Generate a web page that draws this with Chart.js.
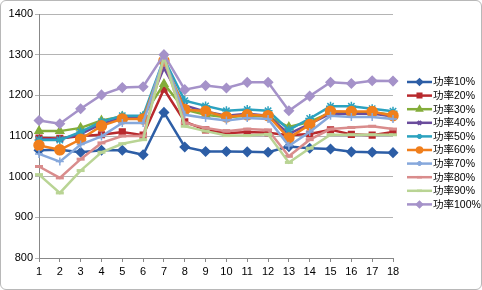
<!DOCTYPE html>
<html>
<head>
<meta charset="utf-8">
<script src="https://cdn.jsdelivr.net/npm/chart.js@4/dist/chart.umd.min.js"></script>
<style>
  html, body { margin: 0; padding: 0; background: #fff; }
  #wrap {
    position: relative; width: 480px; height: 288px;
    border: 1px solid #b8b8b8; border-radius: 6px; overflow: hidden;
  }
  #c { position: absolute; left: -1px; top: -1px; }
</style>
</head>
<body>
<div id="wrap"><canvas id="c" width="482" height="290"></canvas></div>
<script>
// --- dati ---
const labels = ['1','2','3','4','5','6','7','8','9','10','11','12','13','14','15','16','17','18'];
const seriesNames = ['功率10%','功率20%','功率30%','功率40%','功率50%','功率60%','功率70%','功率80%','功率90%','功率100%'];

const p10  = [1065, 1066, 1060, 1065, 1065, 1054, 1158, 1073, 1062, 1062, 1061, 1060, 1074, 1070, 1068, 1061, 1060, 1059];
const p20  = [1095, 1094, 1100, 1103, 1110, 1102, 1215, 1135, 1115, 1107, 1110, 1108, 1102, 1105, 1115, 1104, 1102, 1110];
const p30  = [1112, 1112, 1120, 1138, 1148, 1148, 1228, 1165, 1152, 1146, 1150, 1148, 1122, 1135, 1158, 1158, 1158, 1152];
const p40  = [1092, 1092, 1105, 1130, 1145, 1145, 1267, 1175, 1160, 1150, 1155, 1150, 1105, 1130, 1155, 1155, 1155, 1148];
const p50  = [1090, 1090, 1110, 1135, 1150, 1150, 1290, 1187, 1174, 1162, 1165, 1162, 1115, 1143, 1173, 1173, 1167, 1161];
const p60  = [1077, 1066, 1092, 1125, 1142, 1142, 1285, 1165, 1161, 1147, 1152, 1150, 1095, 1128, 1161, 1160, 1160, 1150];
const p70  = [1056, 1037, 1079, 1099, 1132, 1132, 1292, 1152, 1144, 1138, 1144, 1142, 1076, 1110, 1150, 1147, 1147, 1142];
const p80  = [1025, 997, 1043, 1083, 1100, 1100, 1288, 1132, 1120, 1112, 1117, 1115, 1050, 1091, 1117, 1121, 1124, 1117];
const p90  = [1005, 960, 1015, 1060, 1081, 1091, 1295, 1124, 1112, 1101, 1101, 1104, 1035, 1070, 1103, 1103, 1103, 1103];
const p100 = [1138, 1130, 1167, 1201, 1219, 1221, 1300, 1214, 1224, 1218, 1232, 1232, 1162, 1198, 1232, 1229, 1236, 1235];

const yTicks = [800, 900, 1000, 1100, 1200, 1300, 1400];

const allValues = [p10, p20, p30, p40, p50, p60, p70, p80, p90, p100];
const colors = ['#2d5ea6', '#b8292d', '#84ad3a', '#6a4c9c', '#2ca2bf', '#f07f1c', '#86a8dc', '#d98c8c', '#b9d494', '#a592c9'];
const markers = ['rectRot', 'rect', 'triangle', 'crossRot', 'star', 'circle', 'cross', 'line', 'line', 'rectRot'];
const radii = [4.5, 4, 4.5, 4, 4.5, 5, 4, 4, 4, 4.5];

const FONT = '"Liberation Sans", Arial, "Noto Sans CJK SC", sans-serif';

// --- legenda disegnata a mano sulla destra ---
const sideLegend = {
  id: 'sideLegend',
  afterDraw(chart) {
    const ctx = chart.ctx;
    ctx.save();
    seriesNames.forEach((name, i) => {
      const y = 82 + i * 13.6;
      ctx.strokeStyle = colors[i];
      ctx.lineWidth = 2.5;
      ctx.beginPath();
      ctx.moveTo(407, y);
      ctx.lineTo(432, y);
      ctx.stroke();
      ctx.fillStyle = colors[i];
      ctx.strokeStyle = colors[i];
      Chart.helpers.drawPoint(ctx, {
        pointStyle: markers[i], radius: 2.5, borderWidth: 1
      }, 419.5, y);
      ctx.fillStyle = '#000';
      ctx.font = '10.5px ' + FONT;
      ctx.textBaseline = 'middle';
      ctx.fillText(name, 433, y + 0.5);
    });
    ctx.restore();
  }
};

const datasets = allValues.map((vals, i) => ({
  label: seriesNames[i],
  data: vals,
  borderColor: colors[i],
  backgroundColor: colors[i],
  borderWidth: 2.5,
  pointStyle: markers[i],
  pointRadius: radii[i],
  pointBorderWidth: markers[i] === 'line' ? 3 : 1.5,
  pointBorderColor: colors[i],
  pointBackgroundColor: colors[i],
  tension: 0,
  order: 10 - i
}));

new Chart(document.getElementById('c'), {
  type: 'line',
  data: { labels: labels, datasets: datasets },
  options: {
    responsive: false,
    animation: false,
    layout: { padding: { left: 0, top: 14, right: 89, bottom: 3 } },
    plugins: { legend: { display: false }, tooltip: { enabled: false } },
    scales: {
      x: {
        type: 'category',
        offset: false,
        grid: { drawOnChartArea: false, drawTicks: true, tickLength: 4, color: '#888' },
        border: { color: '#888' },
        ticks: { color: '#000', font: { family: FONT, size: 11 }, padding: 3, maxRotation: 0, autoSkip: false },
        afterFit: s => { s.height = 29; }
      },
      y: {
        min: 800, max: 1400,
        afterBuildTicks: s => { s.ticks = yTicks.map(v => ({ value: v })); },
        grid: { color: '#b4b4b4', lineWidth: 1, tickLength: 4 },
        border: { color: '#888' },
        ticks: { color: '#000', font: { family: FONT, size: 11 }, padding: 2, callback: v => String(v) },
        afterFit: s => { s.width = 39; }
      }
    }
  },
  plugins: [sideLegend]
});
</script>
</body>
</html>
